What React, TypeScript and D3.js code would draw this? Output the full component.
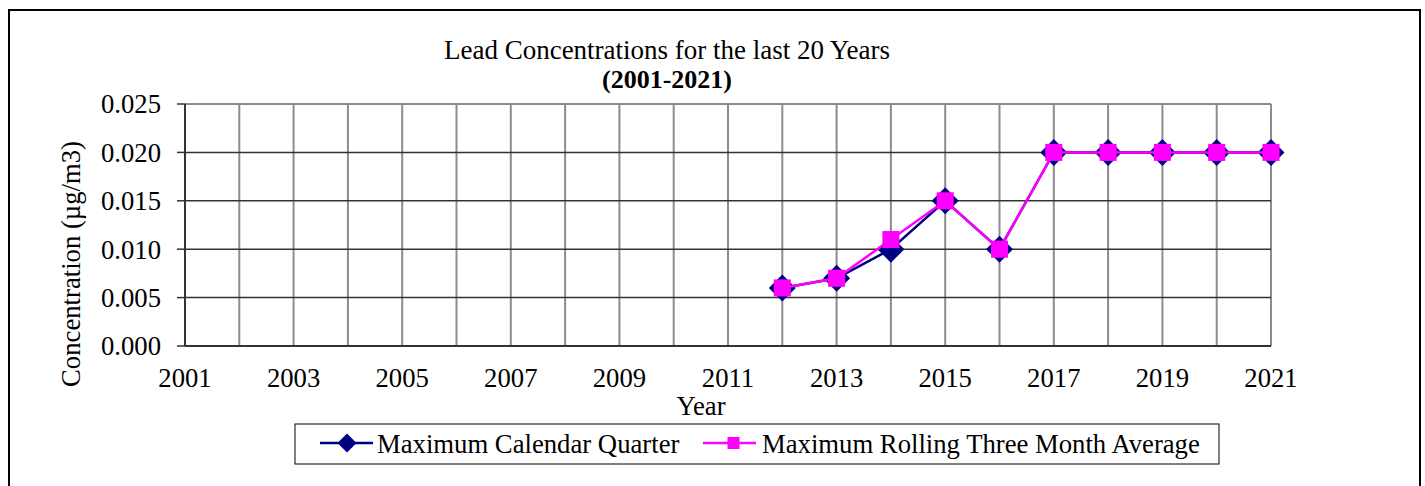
import React from "react";
import * as d3 from "d3";

const years = [2012, 2013, 2014, 2015, 2016, 2017, 2018, 2019, 2020, 2021];
const maxCalendarQuarter = [0.006, 0.007, 0.010, 0.015, 0.010, 0.020, 0.020, 0.020, 0.020, 0.020];
const maxRollingThreeMonth = [0.006, 0.007, 0.011, 0.015, 0.010, 0.020, 0.020, 0.020, 0.020, 0.020];
const xTickLabels = [2001, 2003, 2005, 2007, 2009, 2011, 2013, 2015, 2017, 2019, 2021];
const yTickValues = [0, 0.005, 0.01, 0.015, 0.02, 0.025];
const seriesNames = ["Maximum Calendar Quarter", "Maximum Rolling Three Month Average"];

const W = 1425, H = 486;
const L = 185, R = 1271, T = 104, B = 346;
const FONT = "'Liberation Serif', 'Times New Roman', serif";
const NAVY = "#000080";
const MAGENTA = "#FF00FF";
const FS = 26.7;

export default function App() {
  const x = d3.scaleLinear().domain([2001, 2021]).range([L, R]);
  const y = d3.scaleLinear().domain([0, 0.025]).range([B, T]);
  const allYears = d3.range(2001, 2022);
  const line = d3.line<[number, number]>().x((d) => x(d[0])).y((d) => y(d[1]));
  const d1 = line(years.map((yr, i) => [yr, maxCalendarQuarter[i]] as [number, number])) || "";
  const d2 = line(years.map((yr, i) => [yr, maxRollingThreeMonth[i]] as [number, number])) || "";
  const diamond = (cx: number, cy: number, r: number) =>
    `M${cx},${cy - r}L${cx + r},${cy}L${cx},${cy + r}L${cx - r},${cy}Z`;

  return (
    <svg width={W} height={H} style={{ position: "absolute", left: 0, top: 0, display: "block" }} fontFamily={FONT}>
      <rect x={0} y={0} width={W} height={H} fill="#fff" />
      <rect x={9} y={10} width={1411} height={500} fill="none" stroke="#000" strokeWidth={2} />
      {/* title */}
      <text x={667} y={59} textAnchor="middle" fontSize={27}>Lead Concentrations for the last 20 Years</text>
      <text x={667} y={88} textAnchor="middle" fontSize={26} fontWeight="bold">(2001-2021)</text>
      {/* vertical grid */}
      {allYears.map((yr) => (
        <line key={"v" + yr} x1={x(yr)} x2={x(yr)} y1={T} y2={B} stroke="#8c8c8c" strokeWidth={2} />
      ))}
      {/* horizontal grid */}
      {yTickValues.map((v) =>
        v === 0.025 ? (
          <line key={"h" + v} x1={L} x2={R} y1={y(v)} y2={y(v)} stroke="#8c8c8c" strokeWidth={2} />
        ) : (
          <line key={"h" + v} x1={L} x2={R} y1={y(v)} y2={y(v)} stroke="#333" strokeWidth={1.5} />
        )
      )}
      {/* axes */}
      <line x1={L} x2={L} y1={T} y2={B} stroke="#333" strokeWidth={2} />
      <line x1={L} x2={R} y1={B} y2={B} stroke="#333" strokeWidth={2} />
      {yTickValues.map((v) => (
        <g key={"yt" + v}>
          <line x1={L - 8} x2={L} y1={y(v)} y2={y(v)} stroke="#333" strokeWidth={1.5} />
          <text x={161} y={y(v)} dy="0.35em" textAnchor="end" fontSize={FS}>{d3.format(".3f")(v)}</text>
        </g>
      ))}
      {xTickLabels.map((yr) => (
        <text key={"xt" + yr} x={x(yr)} y={387} textAnchor="middle" fontSize={FS}>{yr}</text>
      ))}
      <text x={701} y={415} textAnchor="middle" fontSize={FS}>Year</text>
      <text transform={`translate(80,264) rotate(-90)`} textAnchor="middle" fontSize={FS}>Concentration (µg/m3)</text>
      {/* series */}
      <path d={d1} fill="none" stroke={NAVY} strokeWidth={2.5} />
      {years.map((yr, i) => (
        <path key={"d" + yr} d={diamond(x(yr), y(maxCalendarQuarter[i]), 13.5)} fill={NAVY} />
      ))}
      <path d={d2} fill="none" stroke={MAGENTA} strokeWidth={2.5} />
      {years.map((yr, i) => (
        <rect key={"s" + yr} x={x(yr) - 8.5} y={y(maxRollingThreeMonth[i]) - 8.5} width={17} height={17} fill={MAGENTA} />
      ))}
      {/* legend */}
      <rect x={295} y={424} width={924} height={40} fill="#fff" stroke="#000" strokeWidth={1} />
      <line x1={320} x2={373} y1={443} y2={443} stroke={NAVY} strokeWidth={2.5} />
      <path d={diamond(347, 443, 9.5)} fill={NAVY} />
      <text x={377} y={453} fontSize={FS}>{seriesNames[0]}</text>
      <line x1={703} x2={756} y1={443} y2={443} stroke={MAGENTA} strokeWidth={2.5} />
      <rect x={727.5} y={437} width={12} height={12} fill={MAGENTA} />
      <text x={762} y={453} fontSize={FS}>{seriesNames[1]}</text>
    </svg>
  );
}
